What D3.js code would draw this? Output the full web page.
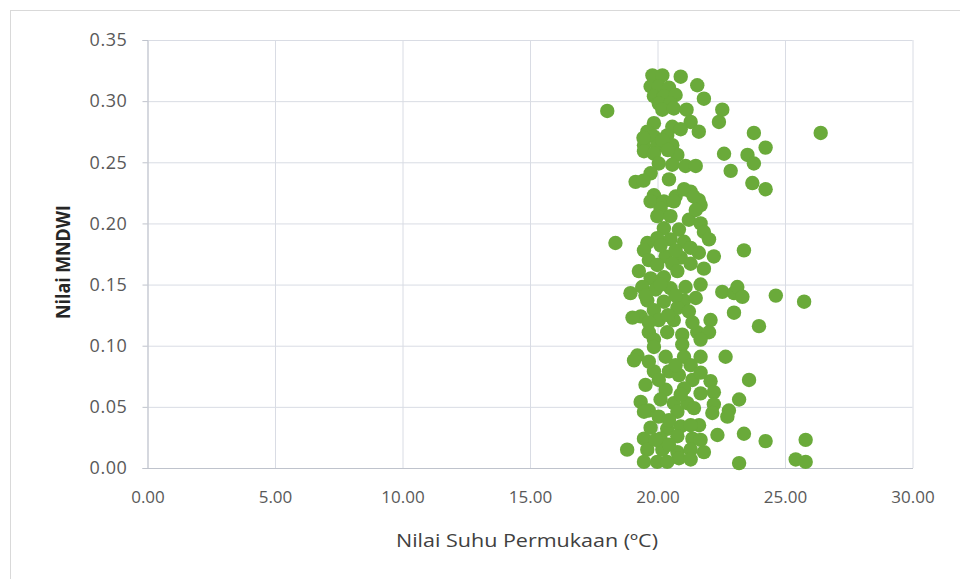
<!DOCTYPE html>
<html><head><meta charset="utf-8">
<script src="https://cdn.jsdelivr.net/npm/d3@7"></script>
<style>body{margin:0;background:#fff}svg{display:block}</style>
</head><body>
<script>
const xTicks = [0, 5, 10, 15, 20, 25, 30];
const yTicks = [0, 0.05, 0.10, 0.15, 0.20, 0.25, 0.30, 0.35];
const xTitle = "Nilai Suhu Permukaan (\u00BAC)";
const yTitle = "Nilai MNDWI";
// Suhu permukaan (°C)
const suhu = [
18.03,19.80,20.19,20.91,21.56,21.82,19.73,20.05,20.45,19.86,20.25,20.71,20.05,20.51,20.19,20.64,21.14,22.54,22.41,21.30,
21.62,19.86,20.58,19.60,23.78,26.40,24.24,22.61,23.53,23.78,22.87,23.72,24.24,19.86,20.38,19.47,19.99,20.58,19.47,19.86,
20.78,20.05,20.58,21.10,21.50,19.73,19.14,19.45,20.45,19.86,20.71,21.30,21.62,19.73,20.25,20.12,20.64,21.69,19.99,20.51,
21.23,21.69,20.25,20.84,21.82,18.35,19.60,19.99,20.51,21.04,22.02,19.47,20.32,20.91,21.62,22.21,23.39,19.66,19.99,20.58,
21.30,21.82,19.27,20.78,19.73,20.25,18.94,19.40,19.93,20.51,21.10,21.69,22.54,23.00,23.13,23.33,24.64,25.75,19.60,20.25,
21.04,19.86,20.78,21.23,23.00,19.34,20.05,20.64,22.08,23.98,19.66,20.38,20.97,21.56,22.02,19.86,21.69,19.86,20.97,19.21,
19.08,20.32,21.04,21.69,22.67,19.86,20.45,20.84,21.37,22.08,23.59,19.53,20.32,21.04,22.21,19.34,20.12,20.64,21.17,22.21,
23.20,22.80,19.66,21.43,19.47,20.05,20.78,22.15,22.74,20.38,20.91,21.63,22.35,23.39,19.47,20.12,20.78,21.37,24.24,25.81,
18.81,19.60,20.19,20.78,21.30,21.82,19.47,19.99,20.84,23.20,25.42,25.81,19.45,
20.19,20.91,20.41,21.04,21.42,21.50,20.12,20.71,21.30,20.12,19.53,20.71,21.50,20.41,21.37,19.66,19.02,
19.66,20.71,21.30,20.05,21.69,20.91,21.69,20.45,21.30,19.73,21.69,20.45,19.93,20.38,21.30
];
// Nilai MNDWI
const mndwi = [
0.292,0.321,0.321,0.320,0.313,0.302,0.312,0.312,0.311,0.304,0.304,0.305,0.298,0.298,0.293,0.294,0.293,0.293,0.283,0.283,
0.275,0.282,0.279,0.275,0.274,0.274,0.262,0.257,0.256,0.249,0.243,0.233,0.228,0.271,0.272,0.264,0.263,0.264,0.259,0.257,
0.256,0.249,0.248,0.247,0.247,0.241,0.234,0.235,0.236,0.223,0.222,0.226,0.219,0.218,0.218,0.212,0.218,0.215,0.206,0.206,
0.203,0.200,0.196,0.195,0.193,0.184,0.184,0.188,0.187,0.185,0.187,0.178,0.173,0.172,0.176,0.173,0.178,0.170,0.166,0.167,
0.167,0.163,0.161,0.161,0.155,0.156,0.143,0.148,0.146,0.147,0.148,0.150,0.144,0.143,0.148,0.140,0.141,0.136,0.137,0.136,
0.137,0.129,0.131,0.128,0.127,0.124,0.121,0.121,0.121,0.116,0.111,0.111,0.109,0.111,0.111,0.105,0.105,0.099,0.101,0.092,
0.088,0.091,0.091,0.091,0.091,0.079,0.079,0.076,0.072,0.071,0.072,0.068,0.064,0.065,0.062,0.054,0.056,0.053,0.053,0.052,
0.056,0.047,0.047,0.049,0.046,0.042,0.046,0.045,0.042,0.032,0.034,0.035,0.027,0.028,0.024,0.024,0.026,0.024,0.022,0.023,
0.015,0.015,0.015,0.013,0.015,0.013,0.005,0.005,0.008,0.004,0.007,0.005,0.270,
0.268,0.277,0.260,0.228,0.222,0.211,0.182,0.178,0.180,0.150,0.141,0.141,0.139,0.125,0.119,0.119,0.123,
0.087,0.084,0.084,0.072,0.078,0.060,0.061,0.039,0.035,0.033,0.023,0.019,0.023,0.005,0.007
];

const W = 960, H = 579;
const m = {left: 147.5, right: 912.5, top: 40, bottom: 468};
const svg = d3.select("body").append("svg").attr("width", W).attr("height", H);
svg.append("rect").attr("x", 10.5).attr("y", 10.5).attr("width", 960).attr("height", 600)
  .attr("fill", "#fff").attr("stroke", "#d9d9d9");

const x = d3.scaleLinear().domain([0, 30]).range([m.left, m.right]);
const y = d3.scaleLinear().domain([0, 0.35]).range([m.bottom, m.top]);
const grid = "#d9dce4", txt = "#595959";

// gridlines
svg.append("g").attr("transform", `translate(0,${m.bottom})`)
  .call(d3.axisBottom(x).tickValues(xTicks).tickSize(-(m.bottom - m.top)).tickFormat(""))
  .call(g => { g.select(".domain").remove(); g.selectAll("line").attr("stroke", grid); });
svg.append("g").attr("transform", `translate(${m.left},0)`)
  .call(d3.axisLeft(y).tickValues(yTicks).tickSize(-(m.right - m.left)).tickFormat(""))
  .call(g => { g.select(".domain").remove(); g.selectAll("line").attr("stroke", grid); });

// axes
const xa = svg.append("g").attr("transform", `translate(0,${m.bottom})`)
  .call(d3.axisBottom(x).tickValues(xTicks).tickSize(0).tickPadding(23).tickFormat(d3.format(".2f")));
xa.select(".domain").attr("stroke", "#bfc3cc");
xa.selectAll("text").attr("fill", txt).style("font-family", "'Open Sans',sans-serif").style("font-size", "17px");

const ya = svg.append("g").attr("transform", `translate(${m.left},0)`)
  .call(d3.axisLeft(y).tickValues(yTicks).tickSize(5).tickPadding(15).tickFormat(d3.format(".2f")));
ya.select(".domain").attr("stroke", "#bfc3cc");
ya.selectAll("line").attr("stroke", "#bfc3cc");
ya.selectAll("text").attr("fill", txt).style("font-family", "'Open Sans',sans-serif")
  .style("font-size", "18px").style("letter-spacing", "0.6px");

// titles
svg.append("text").attr("x", (m.left + m.right) / 2 - 3).attr("y", 547).attr("text-anchor", "middle")
  .attr("fill", "#404040").style("font-family", "'Open Sans',sans-serif")
  .style("font-size", "18px").attr("textLength", 262).attr("lengthAdjust", "spacingAndGlyphs").text(xTitle);
svg.append("text").attr("transform", `translate(70,${(m.top + m.bottom) / 2 + 8}) rotate(-90)`)
  .attr("text-anchor", "middle").attr("fill", "#262626")
  .style("font-family", "'Open Sans',sans-serif").style("font-weight", "bold").style("font-size", "19px")
  .attr("textLength", 114).attr("lengthAdjust", "spacingAndGlyphs").text(yTitle);

// points
const pts = suhu.map((s, i) => ({s, v: mndwi[i]}));
svg.append("g").selectAll("circle").data(pts).join("circle")
  .attr("cx", d => x(d.s)).attr("cy", d => y(d.v)).attr("r", 7.2)
  .attr("fill", "#6aaa3a");
</script>
</body></html>
